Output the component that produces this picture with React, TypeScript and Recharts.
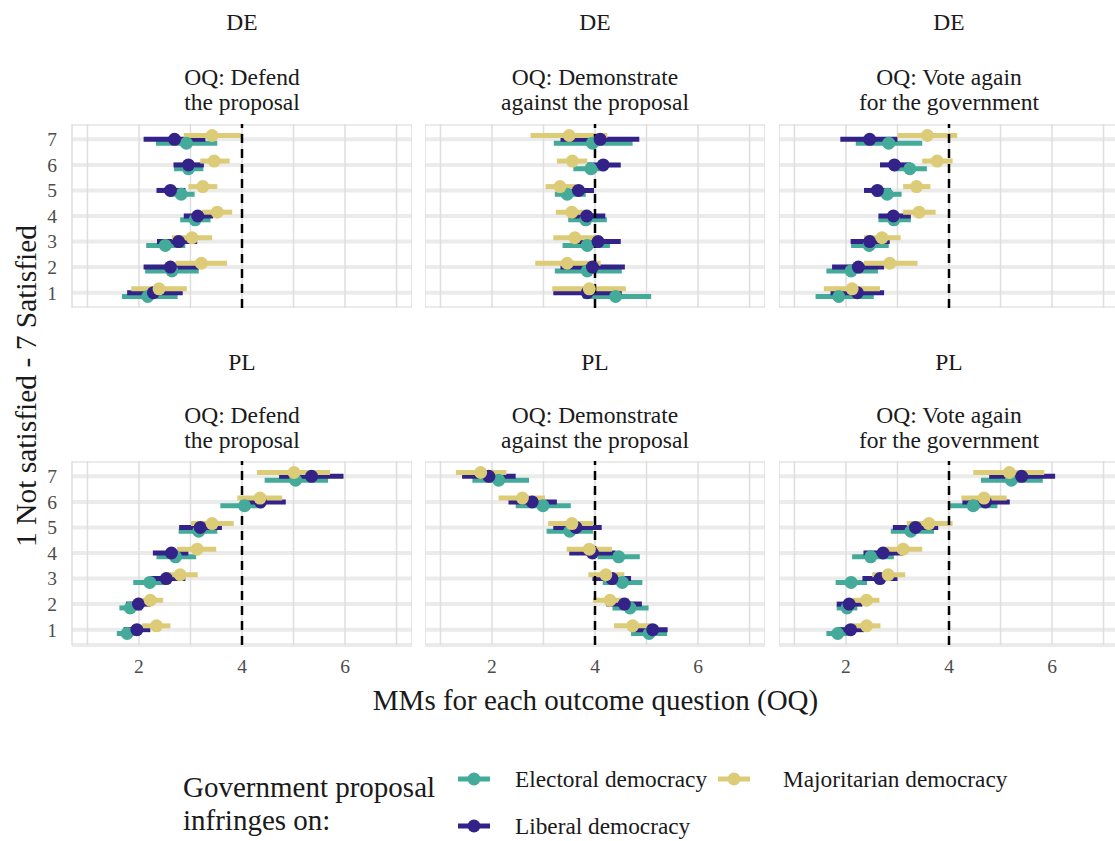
import { ScatterChart, Scatter, XAxis, YAxis, CartesianGrid, ErrorBar, ReferenceLine } from 'recharts'

// rows of the y axis (1 Not satisfied - 7 Satisfied)
const ROWS = [1, 2, 3, 4, 5, 6, 7]
const X_TICKS = [1, 2, 3, 4, 5, 6, 7]

// [estimate, lower, upper] for rows 1..7
const deDefendElectoral = [[2.17, 1.67, 2.75], [2.64, 2.12, 3.16], [2.51, 2.14, 2.9], [3.09, 2.8, 3.39], [2.82, 2.58, 3.08], [2.96, 2.68, 3.25], [2.92, 2.33, 3.52]]
const deDefendLiberal = [[2.28, 1.77, 2.85], [2.61, 2.09, 3.16], [2.77, 2.35, 3.13], [3.14, 2.87, 3.44], [2.61, 2.34, 2.9], [2.96, 2.67, 3.26], [2.69, 2.09, 3.29]]
const deDefendMajoritarian = [[2.39, 1.85, 2.93], [3.21, 2.71, 3.71], [3.03, 2.64, 3.42], [3.52, 3.22, 3.81], [3.24, 2.96, 3.52], [3.46, 3.19, 3.76], [3.42, 2.87, 4.0]]

const deDemoElectoral = [[4.4, 3.76, 5.09], [3.85, 3.22, 4.52], [3.85, 3.37, 4.29], [3.82, 3.48, 4.23], [3.46, 3.22, 3.82], [3.92, 3.58, 4.21], [3.95, 3.2, 4.73]]
const deDemoLiberal = [[3.85, 3.19, 4.52], [3.95, 3.33, 4.58], [4.06, 3.61, 4.5], [3.84, 3.5, 4.2], [3.68, 3.35, 3.98], [4.16, 3.85, 4.5], [4.1, 3.33, 4.86]]
const deDemoMajoritarian = [[3.89, 3.17, 4.6], [3.46, 2.84, 4.11], [3.61, 3.19, 4.03], [3.55, 3.24, 3.89], [3.32, 3.04, 3.63], [3.56, 3.26, 3.85], [3.5, 2.75, 4.24]]

const deVoteElectoral = [[1.86, 1.41, 2.54], [2.1, 1.62, 2.62], [2.45, 2.1, 2.83], [2.93, 2.63, 3.26], [2.8, 2.54, 3.08], [3.24, 2.93, 3.57], [2.83, 2.19, 3.48]]
const deVoteLiberal = [[2.22, 1.7, 2.74], [2.24, 1.73, 2.74], [2.46, 2.09, 2.85], [2.92, 2.63, 3.26], [2.61, 2.35, 2.87], [2.94, 2.66, 3.26], [2.46, 1.89, 3.0]]
const deVoteMajoritarian = [[2.12, 1.57, 2.66], [2.85, 2.35, 3.39], [2.7, 2.35, 3.06], [3.42, 3.11, 3.74], [3.37, 3.11, 3.64], [3.77, 3.48, 4.07], [3.58, 3.0, 4.16]]

const plDefendElectoral = [[1.77, 1.57, 2.02], [1.83, 1.62, 2.06], [2.21, 1.89, 2.53], [2.71, 2.34, 3.11], [3.16, 2.77, 3.52], [4.05, 3.58, 4.42], [5.04, 4.44, 5.67]]
const plDefendLiberal = [[1.96, 1.7, 2.22], [1.99, 1.75, 2.23], [2.53, 2.22, 2.9], [2.63, 2.27, 2.96], [3.19, 2.78, 3.61], [4.36, 3.97, 4.85], [5.35, 4.72, 5.97]]
const plDefendMajoritarian = [[2.34, 2.06, 2.61], [2.22, 2.0, 2.47], [2.8, 2.51, 3.14], [3.13, 2.74, 3.5], [3.42, 3.01, 3.84], [4.35, 3.91, 4.78], [5.01, 4.29, 5.71]]

const plDemoElectoral = [[5.05, 4.7, 5.4], [4.68, 4.34, 5.04], [4.53, 4.15, 4.92], [4.46, 4.05, 4.87], [3.51, 3.06, 3.96], [2.99, 2.46, 3.53], [2.13, 1.62, 2.72]]
const plDemoLiberal = [[5.12, 4.78, 5.41], [4.57, 4.22, 4.91], [4.33, 3.95, 4.7], [3.95, 3.5, 4.4], [3.63, 3.19, 4.13], [2.78, 2.32, 3.26], [1.94, 1.42, 2.46]]
const plDemoMajoritarian = [[4.73, 4.37, 5.09], [4.29, 3.96, 4.66], [4.21, 3.87, 4.57], [3.89, 3.45, 4.33], [3.55, 3.09, 3.96], [2.59, 2.13, 3.03], [1.78, 1.3, 2.28]]

const plVoteElectoral = [[1.84, 1.62, 2.08], [2.02, 1.82, 2.22], [2.1, 1.8, 2.41], [2.48, 2.12, 2.93], [3.26, 2.87, 3.71], [4.47, 4.0, 4.94], [5.21, 4.62, 5.82]]
const plVoteLiberal = [[2.09, 1.83, 2.35], [2.06, 1.82, 2.32], [2.66, 2.32, 3.0], [2.72, 2.34, 3.11], [3.35, 2.91, 3.79], [4.71, 4.26, 5.18], [5.41, 4.78, 6.06]]
const plVoteMajoritarian = [[2.4, 2.12, 2.67], [2.4, 2.13, 2.65], [2.82, 2.51, 3.15], [3.11, 2.74, 3.48], [3.61, 3.18, 4.07], [4.68, 4.24, 5.12], [5.17, 4.47, 5.85]]

const SERIES = [
  { key: 'electoral', name: 'Electoral democracy', color: '#44AA99', offset: -0.15 },
  { key: 'liberal', name: 'Liberal democracy', color: '#332288', offset: 0 },
  { key: 'majoritarian', name: 'Majoritarian democracy', color: '#DDCC77', offset: 0.15 },
]

const QUESTIONS = [['OQ: Defend', 'the proposal'], ['OQ: Demonstrate', 'against the proposal'], ['OQ: Vote again', 'for the government']]
const COUNTRIES = ['DE', 'PL']

const PANEL_DATA: Record<string, number[][]>[][] = [
  [
    { electoral: deDefendElectoral, liberal: deDefendLiberal, majoritarian: deDefendMajoritarian },
    { electoral: deDemoElectoral, liberal: deDemoLiberal, majoritarian: deDemoMajoritarian },
    { electoral: deVoteElectoral, liberal: deVoteLiberal, majoritarian: deVoteMajoritarian },
  ],
  [
    { electoral: plDefendElectoral, liberal: plDefendLiberal, majoritarian: plDefendMajoritarian },
    { electoral: plDemoElectoral, liberal: plDemoLiberal, majoritarian: plDemoMajoritarian },
    { electoral: plVoteElectoral, liberal: plVoteLiberal, majoritarian: plVoteMajoritarian },
  ],
]

const FONT = '"Liberation Serif", "Times New Roman", serif'
const PLOT_LEFT = [72, 425, 779]
const PLOT_TOP = [124, 461]
const PLOT_W = 340
const PLOT_H = 184
const Y_AXIS_W = 72
const X_AXIS_H = 40

const tickStyle = { fill: '#4d4d4d', fontSize: 19.5, fontFamily: FONT }

function toPoints(values: number[][], offset: number) {
  return ROWS.map((row, i) => {
    const [est, lo, hi] = values[i]
    return { x: est, y: row + offset, err: [est - lo, hi - est] }
  })
}

function Panel({ row, col }: { row: number; col: number }) {
  const showY = col === 0
  const showX = row === 1
  const width = PLOT_W + (showY ? Y_AXIS_W : 0)
  const height = PLOT_H + (showX ? X_AXIS_H : 0)
  const left = PLOT_LEFT[col] - (showY ? Y_AXIS_W : 0)
  const data = PANEL_DATA[row][col]

  return (
    <div style={{ position: 'absolute', left, top: PLOT_TOP[row] }}>
      <ScatterChart width={width} height={height} margin={{ top: 0, right: 0, bottom: 0, left: 0 }}>
        <CartesianGrid vertical={false} stroke="#ebebeb" strokeWidth={4} />
        <CartesianGrid horizontal={false} stroke="#dedede" strokeWidth={1.5} />
        <XAxis
          type="number"
          dataKey="x"
          domain={[0.7, 7.3]}
          ticks={X_TICKS}
          interval={0}
          tickFormatter={(v: number) => (v % 2 === 0 ? String(v) : '')}
          hide={!showX}
          height={X_AXIS_H}
          axisLine={false}
          tickLine={false}
          tickSize={0}
          tickMargin={14}
          tick={tickStyle}
          allowDataOverflow
        />
        <YAxis
          type="number"
          dataKey="y"
          domain={[0.4, 7.6]}
          ticks={ROWS}
          interval={0}
          hide={!showY}
          width={Y_AXIS_W}
          axisLine={false}
          tickLine={false}
          tickSize={0}
          tickMargin={15}
          tick={tickStyle}
          allowDataOverflow
        />
        {SERIES.map((s) => (
          <Scatter
            key={`seg-${s.key}`}
            data={toPoints(data[s.key], s.offset)}
            shape={() => <g />}
            isAnimationActive={false}
          >
            <ErrorBar dataKey="err" direction="x" width={0} stroke={s.color} strokeWidth={5} isAnimationActive={false} />
          </Scatter>
        ))}
        {SERIES.map((s) => (
          <Scatter
            key={`pt-${s.key}`}
            data={toPoints(data[s.key], s.offset)}
            fill={s.color}
            shape={(p: any) => <circle cx={p.cx} cy={p.cy} r={6.5} fill={s.color} />}
            isAnimationActive={false}
          />
        ))}
        <ReferenceLine x={4} stroke="#000" strokeWidth={2.5} strokeDasharray="9 6" />
      </ScatterChart>
    </div>
  )
}

function LegendKey({ color }: { color: string }) {
  return (
    <svg width={34} height={16} style={{ display: 'block' }}>
      <line x1={1} x2={33} y1={8} y2={8} stroke={color} strokeWidth={5} />
      <circle cx={17} cy={8} r={6.5} fill={color} />
    </svg>
  )
}

export default function App() {
  const text = { position: 'absolute' as const, fontFamily: FONT, color: '#1a1a1a', textAlign: 'center' as const, whiteSpace: 'nowrap' as const }
  return (
    <div style={{ position: 'absolute', left: 0, top: 0, width: 1115, height: 841, overflow: 'hidden', background: '#fff' }}>
      {COUNTRIES.map((country, r) =>
        QUESTIONS.map((q, c) => (
          <div key={`${r}-${c}`}>
            <div style={{ ...text, left: PLOT_LEFT[c], width: PLOT_W, top: 9 + r * 340, fontSize: 23.5, lineHeight: '26px' }}>{country}</div>
            <div style={{ ...text, left: PLOT_LEFT[c], width: PLOT_W, top: 65 + r * 338, fontSize: 23.5, lineHeight: '25px' }}>
              {q[0]}
              <br />
              {q[1]}
            </div>
            <Panel row={r} col={c} />
          </div>
        ))
      )}
      <div
        style={{
          ...text,
          left: 26,
          top: 386,
          fontSize: 29.5,
          lineHeight: '34px',
          transform: 'translate(-50%, -50%) rotate(-90deg)',
        }}
      >
        1 Not satisfied - 7 Satisfied
      </div>
      <div style={{ ...text, left: 72, width: 1047, top: 683, fontSize: 29, lineHeight: '34px' }}>
        MMs for each outcome question (OQ)
      </div>
      <div style={{ ...text, textAlign: 'left', left: 183, top: 771, fontSize: 29, lineHeight: '33px' }}>
        Government proposal
        <br />
        infringes on:
      </div>
      {[
        { s: SERIES[0], x: 457, y: 779, gap: 24 },
        { s: SERIES[2], x: 717, y: 779, gap: 32 },
        { s: SERIES[1], x: 457, y: 826, gap: 24 },
      ].map(({ s, x, y, gap }) => (
        <div key={s.key} style={{ position: 'absolute', left: x, top: y - 13, height: 26, display: 'flex', alignItems: 'center' }}>
          <LegendKey color={s.color} />
          <span style={{ marginLeft: gap, fontFamily: FONT, fontSize: 23.3, color: '#1a1a1a', whiteSpace: 'nowrap' }}>{s.name}</span>
        </div>
      ))}
    </div>
  )
}
